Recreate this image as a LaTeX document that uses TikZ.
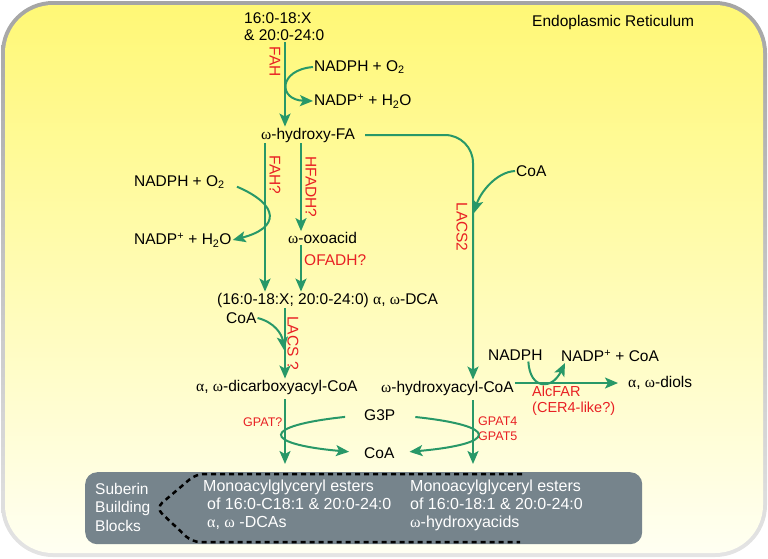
\documentclass[tikz,border=0pt]{standalone}
\usepackage{fontspec}
\setmainfont{Liberation Sans}
\newfontfamily\grkfont{Liberation Serif}
\usetikzlibrary{arrows.meta, calc}

\newcommand{\ga}{{\grkfont α}}
\newcommand{\gw}{{\grkfont ω}}

\definecolor{pathgreen}{RGB}{40,152,104}
\definecolor{enzred}{RGB}{232,32,36}
\definecolor{blockgray}{RGB}{118,132,140}
\definecolor{bgtop}{RGB}{255,248,118}
\definecolor{bgbot}{RGB}{255,255,242}
\definecolor{rimtop}{RGB}{165,165,165}
\definecolor{rimbot}{RGB}{228,228,228}

\begin{document}
\begin{tikzpicture}[
    x=1pt, y=-1pt,
    >={Stealth[length=13pt, width=11pt, inset=3pt]},
    txt/.style={anchor=west, inner sep=1pt, align=left,
                font=\fontsize{15.5}{17}\selectfont},
    enz/.style={inner sep=1pt, text=enzred,
                font=\fontsize{15.5}{17}\selectfont},
    venz/.style={enz, rotate=-90},
    senz/.style={enz, anchor=west, align=left,
                 font=\fontsize{12.5}{15}\selectfont},
    blocktxt/.style={anchor=west, inner sep=1pt, text=white, align=left,
                     font=\fontsize{16}{18}\selectfont},
    arrow/.style={->, line width=2pt, draw=pathgreen}
]
  \useasboundingbox (0,0) rectangle (768,558);

  % cell background
  \shade[top color=rimtop, bottom color=rimbot, rounded corners=52pt]
    (1,1) rectangle (767,557);
  \shade[top color=bgtop, bottom color=bgbot, rounded corners=48pt]
    (5,5) rectangle (763,553);

  % arrow columns
  \coordinate (colA) at (285,0);
  \coordinate (colB) at (265,0);
  \coordinate (colC) at (301,0);
  \coordinate (colD) at (473,0);

  \node[txt] (er) at (531,22) {Endoplasmic Reticulum};

  % omega-hydroxylation
  \node[txt] (src) at (243,27) {16:0-18:X\\\& 20:0-24:0};
  \node[venz] (fah) at (275,62) {FAH};
  \node[txt] (nadpa) at (313,67) {NADPH + O\textsubscript{2}};
  \node[txt] (nadpb) at (313,101) {NADP\textsuperscript{+} + H\textsubscript{2}O};
  \node[txt] (ohfa) at (260,135) {\gw-hydroxy-FA};

  % oxidation to DCA
  \node[venz] (fahq) at (275,175) {FAH?};
  \node[venz] (hfadh) at (311,187) {HFADH?};
  \node[txt] (nadpc) at (133,182) {NADPH + O\textsubscript{2}};
  \node[txt] (nadpd) at (133,240) {NADP\textsuperscript{+} + H\textsubscript{2}O};
  \node[txt] (oxo) at (287,238) {\gw-oxoacid};
  \node[enz, anchor=west] (ofadh) at (303,260) {OFADH?};
  \node[txt] (dca) at (216,300) {(16:0-18:X; 20:0-24:0) \ga, \gw-DCA};
  \node[txt] (coaa) at (225,318) {CoA};
  \node[venz] (lacs) at (293,343) {LACS ?};
  \node[txt] (dcacoa) at (195,387) {\ga, \gw-dicarboxyacyl-CoA};

  % CoA activation
  \node[txt] (coab) at (515,171) {CoA};
  \node[venz] (lacsb) at (462,227) {LACS2};
  \node[txt] (hacoa) at (380,388) {\gw-hydroxyacyl-CoA};
  \node[txt] (nadph) at (487,355) {NADPH};
  \node[txt] (nadpe) at (560,356) {NADP\textsuperscript{+} + CoA};
  \node[txt] (diols) at (627,383) {\ga, \gw-diols};
  \node[enz, anchor=west, align=left, font=\fontsize{14.5}{16}\selectfont]
    (alcfar) at (531,401) {AlcFAR\\(CER4-like?)};

  % glycerol esters
  \node[senz] (gpatq) at (242,422) {GPAT?};
  \node[txt] (g3p) at (363,415) {G3P};
  \node[txt] (coac) at (363,453) {CoA};
  \node[senz] (gpat) at (477,429) {GPAT4\\GPAT5};

  \node[fill=blockgray, rounded corners=12pt, minimum width=557pt,
        minimum height=72pt, anchor=north west] (block) at (85,472) {};
  \node[blocktxt, font=\fontsize{15.5}{18.5}\selectfont] (sbb) at (94,507)
    {Suberin\\Building\\Blocks};
  \node[blocktxt] (monoa) at (202,505) {Monoacylglyceryl esters\\
    \hspace{4pt}of 16:0-C18:1 \& 20:0-24:0\\\hspace{4pt}\ga, \gw\ -DCAs};
  \node[blocktxt] (monob) at (409,505) {Monoacylglyceryl esters\\
    of 16:0-18:1 \& 20:0-24:0\\\gw-hydroxyacids};
  \draw[line width=2.5pt, dash pattern=on 5pt off 4pt, rounded corners=8pt]
    (522,474) -- (196,474) -- (156,508) -- (192,542) -- (520,542);

  % connectors
  \draw[arrow] (src.south -| colA) -- (ohfa.north -| colA);
  \draw[arrow] (nadpa.west) .. controls (278,70) and (278,100) .. (nadpb.west);
  \draw[arrow] (ohfa.south -| colB) -- (dca.north -| colB);
  \draw[arrow] (ohfa.south -| colC) -- (oxo.north -| colC);
  \draw[arrow] (oxo.south -| colC) -- (dca.north -| colC);
  \draw[arrow, shorten <=12pt] (nadpc.east)
    .. controls (280,205) and (280,228) .. (nadpd.east);
  \draw[arrow] (dca.south -| colA) -- (dcacoa.north -| colA);
  \coordinate (jA) at (284,350);
  \draw[arrow] (coaa.east) .. controls (274,322) and (282,334) .. (jA);
  \draw[arrow, rounded corners=28pt] ([xshift=9pt]ohfa.east)
    -| (hacoa.north -| colD);
  \coordinate (jD) at (474,213);
  \draw[arrow] (coab.west) .. controls (496,172) and (480,193) .. (jD);
  \draw[arrow, shorten >=9pt] (hacoa.east |- diols.west) -- (diols.west);
  \draw[arrow] ([xshift=13pt]nadph.south)
    .. controls (530,390) and (552,390) .. ([xshift=5pt]nadpe.south west);
  \draw[arrow, shorten <=4pt, shorten >=8pt]
    (dcacoa.south -| colA) -- (block.north -| colA);
  \draw[arrow, shorten <=4pt, shorten >=8pt]
    (hacoa.south -| colD) -- (block.north -| colD);
  \draw[arrow, shorten <=18pt, shorten >=14pt] (g3p.west)
    .. controls (259,426) and (262,444) .. (coac.west);
  \draw[arrow, shorten <=19pt, shorten >=14pt] (g3p.east)
    .. controls (501,426) and (498,444) .. (coac.east);
\end{tikzpicture}
\end{document}
